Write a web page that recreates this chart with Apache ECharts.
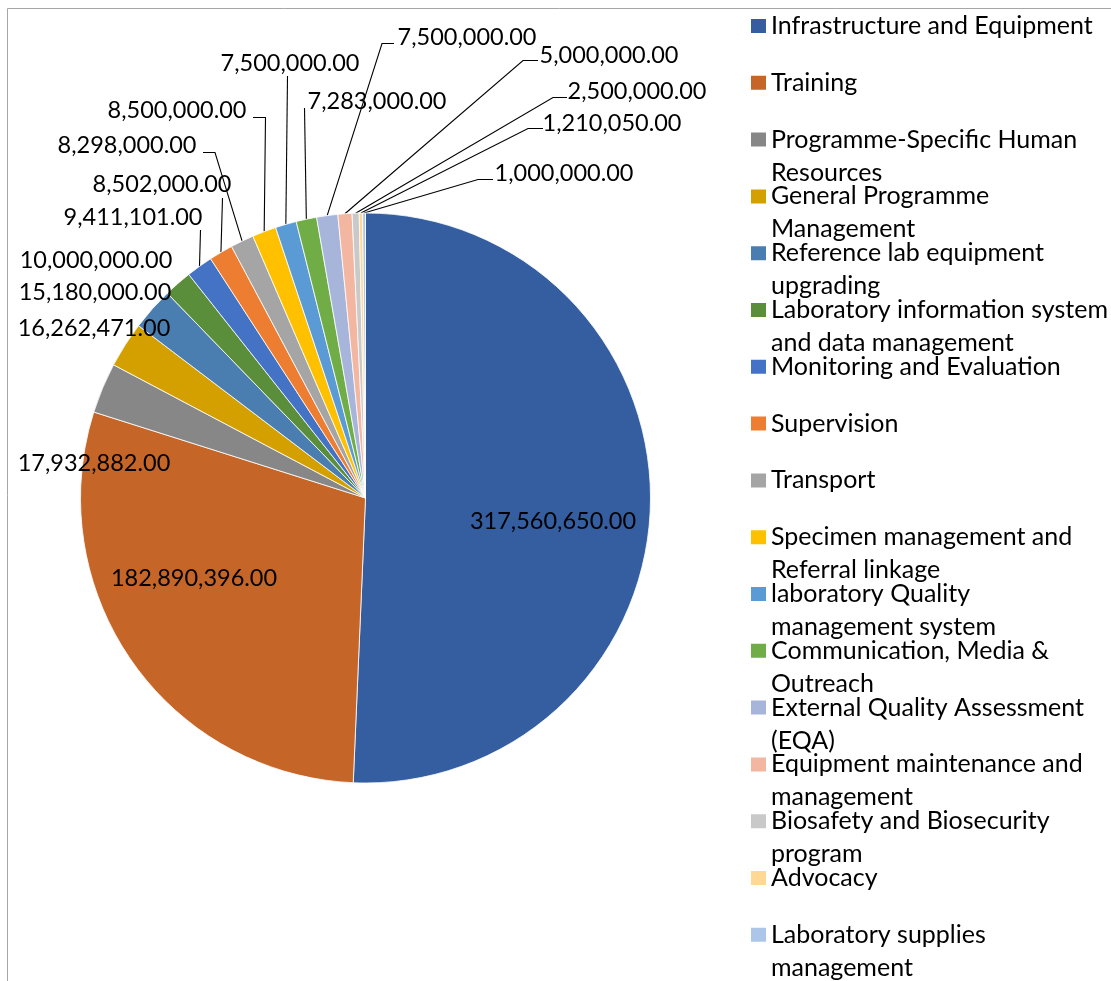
<!DOCTYPE html>
<html>
<head>
<meta charset="utf-8">
<script src="https://cdn.jsdelivr.net/npm/echarts@6/dist/echarts.min.js"></script>
<style>
html,body{margin:0;padding:0;background:#fff;}
#chart{width:1111px;height:981px;}
</style>
</head>
<body>
<div id="chart"></div>
<script>
// ---- data ----
const categories = [
  "Infrastructure and Equipment",
  "Training",
  "Programme-Specific Human Resources",
  "General Programme Management",
  "Reference lab equipment upgrading",
  "Laboratory information system and data management",
  "Monitoring and Evaluation",
  "Supervision",
  "Transport",
  "Specimen management and Referral linkage",
  "laboratory Quality management system",
  "Communication, Media & Outreach",
  "External Quality Assessment (EQA)",
  "Equipment maintenance and management",
  "Biosafety and Biosecurity program",
  "Advocacy",
  "Laboratory supplies management"
];
const values = [
  317560650, 182890396, 17932882, 16262471, 15180000, 10000000,
  9411101, 8502000, 8298000, 8500000, 7500000, 7283000,
  7500000, 5000000, 2500000, 1210050, 1000000
];
// legend text as wrapped in the original
const legendText = [
  "Infrastructure and Equipment\n ",
  "Training\n ",
  "Programme-Specific Human\nResources",
  "General Programme\nManagement",
  "Reference lab equipment\nupgrading",
  "Laboratory information system\nand data management",
  "Monitoring and Evaluation\n ",
  "Supervision\n ",
  "Transport\n ",
  "Specimen management and\nReferral linkage",
  "laboratory Quality\nmanagement system",
  "Communication, Media &\nOutreach",
  "External Quality Assessment\n(EQA)",
  "Equipment maintenance and\nmanagement",
  "Biosafety and Biosecurity\nprogram",
  "Advocacy\n ",
  "Laboratory supplies\nmanagement"
];

// ---- styles / layout ----
const colors = [
  "#355EA0", "#C56528", "#878787", "#D4A000", "#4A7DB0", "#5A8E3A",
  "#4472C4", "#ED7D31", "#A5A5A5", "#FFC000", "#5B9BD5", "#70AD47",
  "#A7B5DB", "#F2B6A1", "#C9C9C9", "#FFD893", "#ABC6E8"
];
// label centres (pixel layout of the data labels, as placed in the original)
const labelCenters = [
  [553, 521], [194, 578], [94, 463], [94, 328], [95, 292], [96, 260],
  [133, 217], [162, 184], [127, 145], [177, 110], [290, 63], [377, 101],
  [467, 37], [609, 55], [637, 91], [612, 123], [564, 173]
];
// leader-line bends after leaving the slice edge
const leaderBends = [
  null, null, null, null, null, null,
  [[200.5, 230]],
  [[222.5, 198]],
  [[215, 152.5], [203, 152.5]],
  [[265.5, 117.5], [253, 117.5]],
  [[287.5, 76]],
  [[304.5, 108]],
  [[382, 43.5], [394, 43.5]],
  [[523, 60.5], [538, 60.5]],
  [[553, 97.5], [567, 97.5]],
  [[528, 128.5], [543, 128.5]],
  [[478, 179.5], [493, 179.5]]
];

const FONT = 'Lato';
const nameToLegend = {};
categories.forEach((c, i) => { nameToLegend[c] = legendText[i]; });

const fmt = v => v.toLocaleString('en-US', {minimumFractionDigits: 2, maximumFractionDigits: 2});

const seriesData = categories.map((name, i) => ({
  name: name,
  value: values[i],
  itemStyle: {color: colors[i]},
  labelLine: {show: leaderBends[i] !== null}
}));

const chart = echarts.init(document.getElementById('chart'), null, {renderer: 'canvas'});
chart.setOption({
  animation: false,
  backgroundColor: '#ffffff',
  graphic: [{
    type: 'rect',
    silent: true,
    shape: {x: 7.5, y: 8.5, width: 1300, height: 1300},
    style: {fill: 'none', stroke: '#a6a6a6', lineWidth: 1}
  }],
  legend: {
    orient: 'vertical',
    left: 751,
    top: 9.5,
    height: 1400,
    padding: 0,
    itemGap: -9.2,
    itemWidth: 15,
    itemHeight: 47,
    icon: 'path://M0,0H15V14H0Z M0,47L15,47',
    itemStyle: {borderWidth: 0},
    data: categories,
    formatter: name => nameToLegend[name],
    textStyle: {fontFamily: FONT, fontSize: 25, color: '#000', lineHeight: 33}
  },
  series: [{
    type: 'pie',
    center: [365.5, 498],
    radius: 285,
    startAngle: 90,
    clockwise: true,
    avoidLabelOverlap: false,
    itemStyle: {borderColor: '#ffffff', borderWidth: 0.8},
    label: {
      show: true,
      position: 'outside',
      formatter: p => fmt(p.value),
      fontFamily: FONT,
      fontSize: 23.5,
      color: '#000'
    },
    labelLine: {show: true, lineStyle: {color: '#000', width: 1.1}, smooth: false},
    labelLayout: function (params) {
      const i = params.dataIndex;
      const c = labelCenters[i];
      const out = {x: c[0], y: c[1], align: 'center', verticalAlign: 'middle'};
      const bends = leaderBends[i];
      if (bends && params.labelLinePoints && params.labelLinePoints.length) {
        out.labelLinePoints = [params.labelLinePoints[0]].concat(bends);
      }
      return out;
    },
    emphasis: {disabled: true},
    data: seriesData
  }]
});
</script>
</body>
</html>
